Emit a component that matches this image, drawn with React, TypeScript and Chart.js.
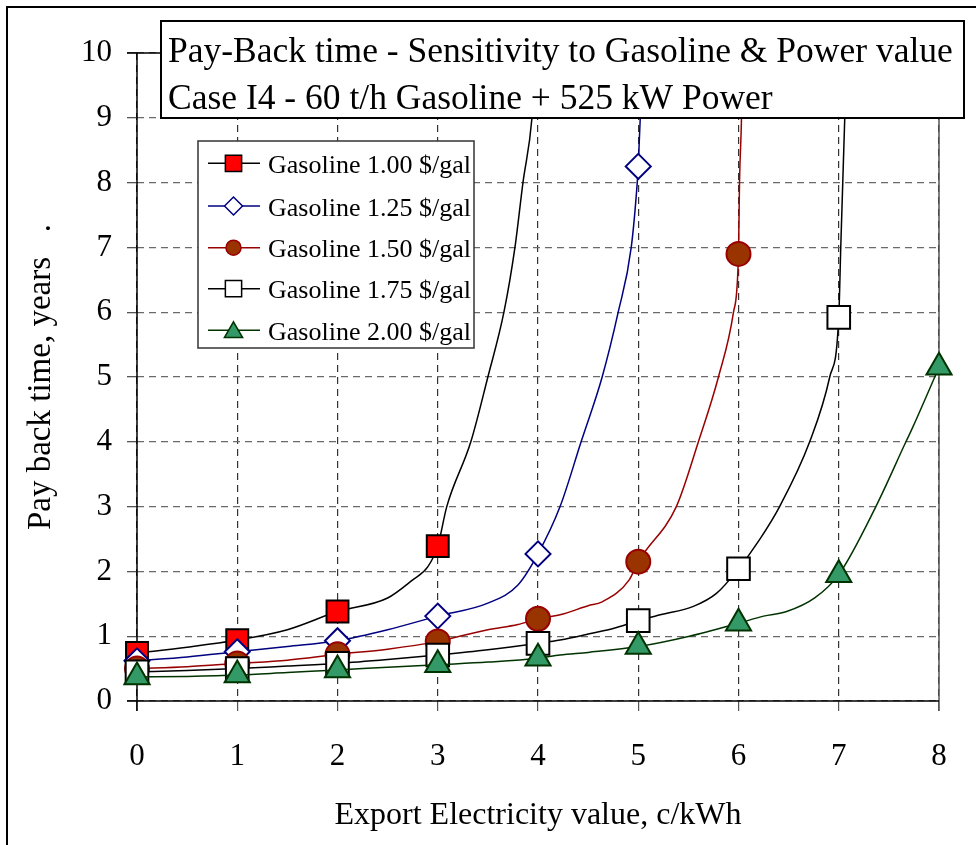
import React, { useEffect, useRef } from 'react';
import { Chart, registerables } from 'chart.js';

Chart.register(...registerables);

// ---------- data ----------
const electricityValues = [0, 1, 2, 3, 4, 5, 6, 7, 8];
const seriesNames = [
  'Gasoline 1.00 $/gal',
  'Gasoline 1.25 $/gal',
  'Gasoline 1.50 $/gal',
  'Gasoline 1.75 $/gal',
  'Gasoline 2.00 $/gal',
];
const titleLines = [
  'Pay-Back time - Sensitivity to Gasoline & Power value',
  'Case I4 - 60 t/h Gasoline + 525 kW Power',
];
const xAxisTitle = 'Export Electricity value, c/kWh';
const yAxisTitle = 'Pay back time, years   .';

// marker values at electricity value 0,1,2,...
const gas100Markers = [0.74, 0.94, 1.38, 2.39];
const gas125Markers = [0.62, 0.76, 0.93, 1.31, 2.27, 8.25];
const gas150Markers = [0.5, 0.58, 0.72, 0.92, 1.27, 2.15, 6.9];
const gas175Markers = [0.45, 0.5, 0.58, 0.71, 0.89, 1.24, 2.04, 5.92];
const gas200Markers = [0.37, 0.4, 0.48, 0.56, 0.66, 0.84, 1.2, 1.95, 5.15];

// curve points read between the markers
const gas100BetweenX = [0.5, 1.5, 2.5, 2.75, 2.9, 3.09, 3.33, 3.5, 3.66, 3.77, 3.85, 3.94, 3.98];
const gas100BetweenY = [0.83, 1.1, 1.59, 1.87, 2.07, 3.0, 4.0, 5.0, 6.0, 7.0, 8.0, 9.0, 10.0];

const gas125BetweenX = [0.5, 1.5, 2.5, 3.5, 3.8, 4.22, 4.43, 4.64, 4.8, 4.93, 4.99, 5.02, 5.04];
const gas125BetweenY = [0.68, 0.84, 1.1, 1.51, 1.79, 3.0, 4.0, 5.0, 6.0, 7.0, 8.0, 9.0, 10.0];

const gas150BetweenX = [0.5, 1.5, 2.5, 3.5, 3.8, 4.22, 4.5, 4.64, 4.91, 5.38, 5.6, 5.8, 5.95, 6.01, 6.03, 6.04];
const gas150BetweenY = [0.53, 0.63, 0.8, 1.1, 1.18, 1.33, 1.47, 1.53, 1.87, 3.0, 4.0, 5.0, 6.0, 8.0, 9.0, 10.0];

const gas175BetweenX = [0.5, 1.5, 2.5, 3.5, 4.22, 4.55, 4.75, 5.22, 5.55, 5.78, 6.21, 6.41, 6.71, 6.91, 7.02, 7.04, 7.06, 7.08];
const gas175BetweenY = [0.47, 0.54, 0.64, 0.79, 0.94, 1.05, 1.12, 1.33, 1.46, 1.66, 2.49, 3.0, 4.0, 5.0, 7.0, 8.0, 9.0, 10.0];

const gas200BetweenX = [0.5, 1.5, 2.5, 3.5, 4.22, 4.5, 5.51, 6.25, 6.48, 6.76, 7.37, 7.67, 7.74];
const gas200BetweenY = [0.38, 0.44, 0.52, 0.6, 0.71, 0.75, 1.0, 1.31, 1.38, 1.59, 3.0, 4.0, 4.23];

const yMin = 0;
const yMax = 10;
const xMin = 0;
const xMax = 8;

// ---------- styles ----------
const FONT = "'Liberation Serif', 'Times New Roman', serif";
const seriesStyles = [
  { line: '#000000', fill: '#FF0000', border: '#000000', shape: 'rect', r: 15.5, lr: 11.5 },
  { line: '#000080', fill: '#FFFFFF', border: '#000080', shape: 'rectRot', r: 12.5, lr: 9 },
  { line: '#990000', fill: '#993300', border: '#990000', shape: 'circle', r: 12, lr: 7.5 },
  { line: '#000000', fill: '#FFFFFF', border: '#000000', shape: 'rect', r: 16, lr: 11.5 },
  { line: '#003300', fill: '#339966', border: '#003300', shape: 'triangle', r: 14.5, lr: 10.5 },
];

type Pt = { x: number; y: number; m: boolean };

function buildCurve(markers: number[], bx: number[], by: number[]): Pt[] {
  const pts: Pt[] = markers.map((y, i) => ({ x: electricityValues[i], y, m: true }));
  bx.forEach((x, i) => pts.push({ x, y: by[i], m: false }));
  pts.sort((a, b) => a.x - b.x);
  return pts;
}

function drawShape(ctx: CanvasRenderingContext2D, shape: string, x: number, y: number, r: number) {
  ctx.beginPath();
  if (shape === 'rect') {
    const s = Math.SQRT1_2 * r;
    ctx.rect(x - s, y - s, 2 * s, 2 * s);
  } else if (shape === 'rectRot') {
    ctx.moveTo(x - r, y);
    ctx.lineTo(x, y - r);
    ctx.lineTo(x + r, y);
    ctx.lineTo(x, y + r);
    ctx.closePath();
  } else if (shape === 'circle') {
    ctx.arc(x, y, r, 0, Math.PI * 2);
  } else if (shape === 'triangle') {
    const a = (2 * Math.PI) / 3;
    ctx.moveTo(x, y - r);
    ctx.lineTo(x + Math.sin(a) * r, y - Math.cos(a) * r);
    ctx.lineTo(x + Math.sin(2 * a) * r, y - Math.cos(2 * a) * r);
    ctx.closePath();
  }
}

const decorPlugin = {
  id: 'decor',
  beforeDatasetsDraw(chart: any) {
    const { ctx, chartArea, scales } = chart;
    const xs = scales.x;
    const ys = scales.y;
    ctx.save();
    ctx.setLineDash([]);
    // right edge at x = 8
    ctx.strokeStyle = '#555555';
    ctx.lineWidth = 1.5;
    ctx.beginPath();
    ctx.moveTo(xs.getPixelForValue(xMax), chartArea.top);
    ctx.lineTo(xs.getPixelForValue(xMax), ys.getPixelForValue(yMin) + 10);
    ctx.stroke();
    // axes
    ctx.strokeStyle = '#000000';
    ctx.lineWidth = 1.5;
    ctx.beginPath();
    ctx.moveTo(chartArea.left - 10, ys.getPixelForValue(yMin));
    ctx.lineTo(chartArea.right, ys.getPixelForValue(yMin));
    ctx.moveTo(xs.getPixelForValue(xMin), chartArea.top);
    ctx.lineTo(xs.getPixelForValue(xMin), ys.getPixelForValue(yMin) + 10);
    ctx.moveTo(chartArea.left - 10, ys.getPixelForValue(yMax));
    ctx.lineTo(chartArea.right, ys.getPixelForValue(yMax));
    ctx.stroke();
    ctx.restore();
  },
  afterDatasetsDraw(chart: any) {
    const { ctx } = chart;
    ctx.save();
    ctx.setLineDash([]);

    // title box
    ctx.fillStyle = '#FFFFFF';
    ctx.fillRect(161, 21, 803, 97);
    ctx.strokeStyle = '#000000';
    ctx.lineWidth = 2;
    ctx.strokeRect(161, 21, 803, 97);
    ctx.fillStyle = '#000000';
    ctx.font = `35.5px ${FONT}`;
    ctx.textBaseline = 'alphabetic';
    ctx.textAlign = 'left';
    ctx.fillText(titleLines[0], 168, 61.5);
    ctx.fillText(titleLines[1], 168, 108.5);

    // legend
    const lx = 198, ly = 141, lw = 276, lh = 207;
    ctx.fillStyle = '#FFFFFF';
    ctx.fillRect(lx, ly, lw, lh);
    ctx.strokeStyle = '#333333';
    ctx.lineWidth = 1.5;
    ctx.strokeRect(lx, ly, lw, lh);
    const rows = [163.3, 206, 247.7, 288.7, 330.3];
    seriesNames.forEach((name, i) => {
      const st = seriesStyles[i];
      const cy = rows[i];
      ctx.strokeStyle = st.line;
      ctx.lineWidth = 1.5;
      ctx.beginPath();
      ctx.moveTo(208, cy);
      ctx.lineTo(260, cy);
      ctx.stroke();
      drawShape(ctx, st.shape, 233.5, st.shape === 'triangle' ? cy + 2 : cy, st.lr);
      ctx.fillStyle = st.fill;
      ctx.fill();
      ctx.strokeStyle = st.border;
      ctx.lineWidth = 1.5;
      ctx.stroke();
      ctx.fillStyle = '#000000';
      ctx.font = `26px ${FONT}`;
      ctx.textBaseline = 'alphabetic';
      ctx.fillText(name, 268, cy + 9.5);
    });

    // outer frame (left & top)
    ctx.strokeStyle = '#000000';
    ctx.lineWidth = 2;
    ctx.beginPath();
    ctx.moveTo(7, 845);
    ctx.lineTo(7, 7);
    ctx.lineTo(976, 7);
    ctx.stroke();
    ctx.restore();
  },
};

export default function App() {
  const canvasRef = useRef<HTMLCanvasElement | null>(null);

  useEffect(() => {
    if (!canvasRef.current) return;
    const markerSets = [gas100Markers, gas125Markers, gas150Markers, gas175Markers, gas200Markers];
    const betweenX = [gas100BetweenX, gas125BetweenX, gas150BetweenX, gas175BetweenX, gas200BetweenX];
    const betweenY = [gas100BetweenY, gas125BetweenY, gas150BetweenY, gas175BetweenY, gas200BetweenY];

    const datasets = seriesNames.map((name, i) => {
      const st = seriesStyles[i];
      return {
        label: name,
        data: buildCurve(markerSets[i], betweenX[i], betweenY[i]),
        borderColor: st.line,
        borderWidth: 1.5,
        backgroundColor: st.fill,
        pointBackgroundColor: st.fill,
        pointBorderColor: st.border,
        pointBorderWidth: 2,
        pointStyle: st.shape,
        pointRadius: (c: any) => (c.raw && c.raw.m ? st.r : 0),
        pointHoverRadius: (c: any) => (c.raw && c.raw.m ? st.r : 0),
        cubicInterpolationMode: 'monotone',
        fill: false,
        clip: false,
        order: seriesNames.length - i,
      };
    });

    const chart = new Chart(canvasRef.current, {
      type: 'line',
      data: { datasets } as any,
      options: {
        animation: false,
        responsive: false,
        devicePixelRatio: 1,
        parsing: false as any,
        layout: { padding: { left: 0, top: 53, right: 37, bottom: 0 } },
        plugins: {
          legend: { display: false },
          tooltip: { enabled: false },
          title: { display: false },
        },
        scales: {
          x: {
            type: 'linear',
            min: xMin,
            max: xMax,
            ticks: {
              stepSize: 1,
              color: '#000000',
              font: { family: FONT, size: 31 },
              padding: 27,
            },
            grid: {
              color: '#333333',
              lineWidth: 1.2,
              drawTicks: true,
              tickLength: 10,
              tickColor: '#555555',
            },
            border: { display: false, dash: [7, 5] },
            title: {
              display: true,
              text: xAxisTitle,
              color: '#000000',
              font: { family: FONT, size: 32 },
              padding: { top: 0, bottom: 10 },
            },
            afterFit: (axis: any) => {
              axis.height = 144;
            },
          },
          y: {
            type: 'linear',
            min: yMin,
            max: yMax,
            ticks: {
              stepSize: 1,
              color: '#000000',
              font: { family: FONT, size: 31 },
              padding: 15,
            },
            grid: {
              color: '#6a6a6a',
              lineWidth: 1.3,
              drawTicks: true,
              tickLength: 10,
              tickColor: '#555555',
            },
            border: { display: false, dash: [7, 5] },
            title: {
              display: true,
              text: yAxisTitle,
              color: '#000000',
              font: { family: FONT, size: 33 },
              padding: { top: 22, bottom: 0 },
            },
            afterFit: (axis: any) => {
              axis.width = 137;
            },
          },
        },
      } as any,
      plugins: [decorPlugin],
    });
    return () => chart.destroy();
  }, []);

  return (
    <div style={{ position: 'absolute', left: 0, top: 0, width: 976, height: 845, background: '#ffffff' }}>
      <canvas ref={canvasRef} width={976} height={845} style={{ display: 'block' }} />
    </div>
  );
}
